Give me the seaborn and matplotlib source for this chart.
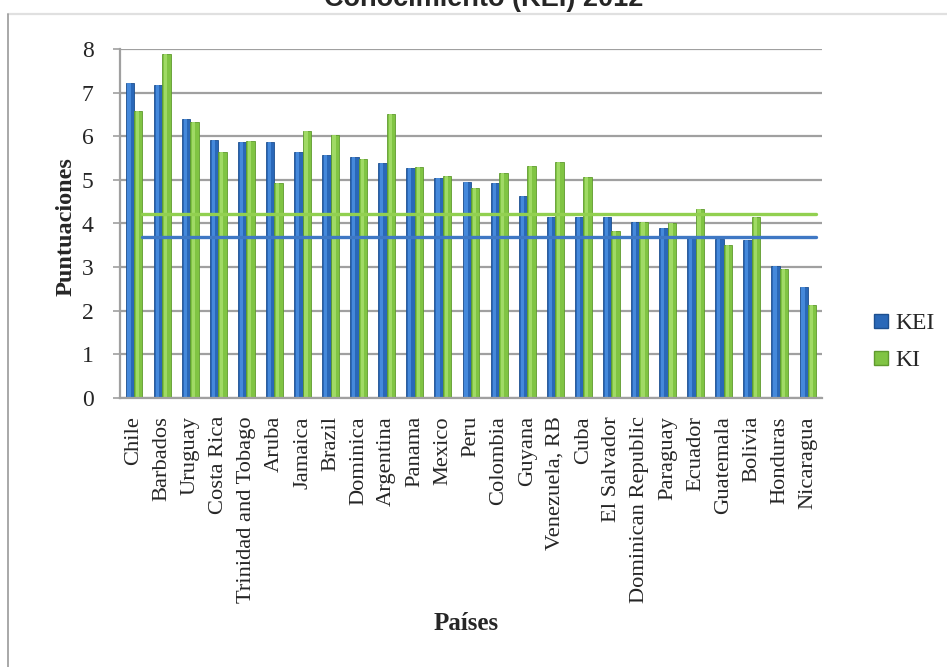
import numpy as np
import pandas as pd
import matplotlib
matplotlib.use("Agg")
import matplotlib.pyplot as plt
from matplotlib.lines import Line2D
from matplotlib.patches import Rectangle
import matplotlib.colors as mcolors
import seaborn as sns

# Índice de la Economía del Conocimiento (KEI) e Índice del Conocimiento (KI), 2012
paises = ["Chile", "Barbados", "Uruguay", "Costa Rica", "Trinidad and Tobago",
          "Aruba", "Jamaica", "Brazil", "Dominica", "Argentina", "Panama",
          "Mexico", "Peru", "Colombia", "Guyana", "Venezuela, RB", "Cuba",
          "El Salvador", "Dominican Republic", "Paraguay", "Ecuador",
          "Guatemala", "Bolivia", "Honduras", "Nicaragua"]
kei = [7.21, 7.18, 6.39, 5.92, 5.87, 5.87, 5.63, 5.57, 5.52, 5.39, 5.28,
       5.05, 4.96, 4.92, 4.64, 4.15, 4.15, 4.14, 4.03, 3.90, 3.68, 3.65,
       3.62, 3.02, 2.55]
ki = [6.59, 7.89, 6.32, 5.64, 5.90, 4.93, 6.13, 6.02, 5.47, 6.51, 5.30,
      5.10, 4.82, 5.15, 5.32, 5.41, 5.06, 3.82, 4.03, 4.02, 4.33, 3.50,
      4.14, 2.96, 2.13]
series = ["KEI", "KI"]
promedio_kei = 3.70
promedio_ki = 4.22
valores_y = list(range(0, 9))

sns.set_style("white")
plt.rcParams["font.family"] = ["Liberation Serif", "DejaVu Serif"]

W, H = 947, 667
fig = plt.figure(figsize=(W / 100, H / 100), dpi=100)
ax = fig.add_axes([120 / W, 1 - 398 / H, 702 / W, 349 / H])

df = pd.DataFrame({
    "País": paises * 2,
    "Puntuación": kei + ki,
    "Índice": [series[0]] * len(paises) + [series[1]] * len(paises),
})

colores = {"KEI": "#2a68b8", "KI": "#80c443"}
claros = {"KEI": "#4b90e2", "KI": "#a6df6c"}
oscuros = {"KEI": "#1d4f8f", "KI": "#5f9a2e"}

sns.barplot(data=df, x="País", y="Puntuación", hue="Índice", order=paises,
            hue_order=series, palette=colores, width=0.6, saturation=1,
            linewidth=0, legend=False, errorbar=None, ax=ax, zorder=2)

# sombreado tipo cilindro sobre cada columna
for patch in list(ax.patches):
    h = patch.get_height()
    if h <= 0:
        continue
    fc = mcolors.to_hex(patch.get_facecolor())
    clave = "KEI" if fc == colores["KEI"] else "KI"
    patch.set_edgecolor(oscuros[clave])
    patch.set_linewidth(0.6)
    x0, w = patch.get_x(), patch.get_width()
    ax.add_patch(Rectangle((x0 + 0.22 * w, 0), 0.38 * w, h,
                           facecolor=claros[clave], linewidth=0,
                           alpha=0.85, zorder=2.1))

# líneas de promedio
pos = np.arange(len(paises)) + 0.3
sns.lineplot(x=pos, y=[promedio_ki] * len(paises), color="#92d050",
             linewidth=2.4, ax=ax, zorder=3)
sns.lineplot(x=pos, y=[promedio_kei] * len(paises), color="#3f78c4",
             linewidth=2.4, ax=ax, zorder=3)

ax.set_xlim(-0.5, len(paises) - 0.5)
ax.set_ylim(0, 8)
ax.set_yticks(valores_y)
ax.set_yticklabels([str(v) for v in valores_y], fontsize=17)
ax.yaxis.grid(True, color="#a0a0a0", linewidth=1.6)
ax.xaxis.grid(False)
ax.set_axisbelow(True)

ax.set_xticks(range(len(paises)))
ax.set_xticklabels(paises, rotation=90, fontsize=16.2, va="top", ha="center")
ax.set_xticks(np.arange(-0.5, len(paises)), minor=True)
ax.tick_params(axis="x", which="major", length=0, pad=13)
ax.tick_params(axis="x", which="minor", length=5, width=1.2, color="#a0a0a0",
               direction="out")
ax.tick_params(axis="y", length=5, width=1.2, color="#a0a0a0", pad=14,
               left=True)
ax.set_xlabel("")
ax.set_ylabel("")

for s in ["top", "right"]:
    ax.spines[s].set_visible(False)
for s in ["left", "bottom"]:
    ax.spines[s].set_color("#a0a0a0")
    ax.spines[s].set_linewidth(1.6)

# títulos de ejes
fig.text(66 / W, 1 - 227 / H, "Puntuaciones", rotation=90, ha="center",
         va="center", fontsize=17.5, fontweight="bold")
fig.text(466 / W, 1 - 624 / H, "Países", ha="center", va="center",
         fontsize=18, fontweight="bold")

# título del gráfico
fig.text(484 / W, 1 - 6 / H, "Conocimiento (KEI) 2012", ha="center",
         va="baseline", fontsize=19.5, fontweight="bold",
         family=["Liberation Sans", "DejaVu Sans"])

# leyenda
manejadores = [
    Line2D([], [], marker="s", linestyle="", markersize=10,
           markerfacecolor=colores[s], markeredgecolor=oscuros[s], label=s)
    for s in series
]
fig.legend(handles=manejadores, loc="center left",
           bbox_to_anchor=(862 / W, 1 - 342 / H), frameon=False,
           fontsize=17, handlelength=0.8, handletextpad=0.2,
           labelspacing=0.65, borderaxespad=0)

# marco del área del gráfico
fig.add_artist(Line2D([8 / W, 1], [1 - 14 / H, 1 - 14 / H],
                      transform=fig.transFigure, color="#e0e0e0", lw=1.6))
fig.add_artist(Line2D([8 / W, 8 / W], [0, 1 - 14 / H],
                      transform=fig.transFigure, color="#9a9a9a", lw=1.2))

fig.savefig("out.png", dpi=100)
